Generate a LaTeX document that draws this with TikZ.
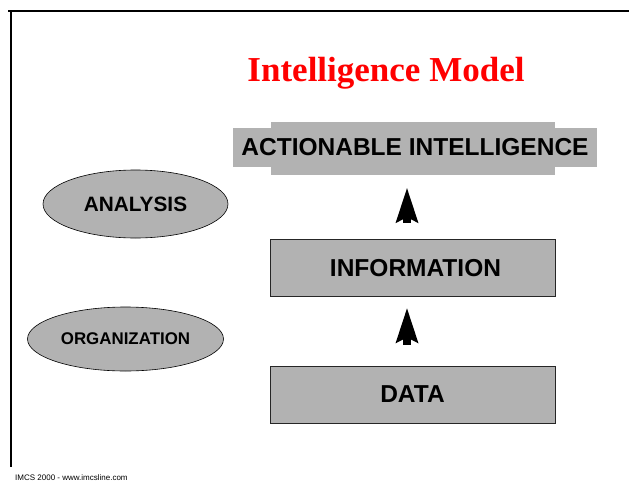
\documentclass[tikz,border=0pt]{standalone}
\usepackage{fontspec}
\setmainfont{Liberation Serif}
\setsansfont{Liberation Sans}
\usetikzlibrary{arrows.meta,shapes.geometric}
\definecolor{boxgray}{RGB}{178,178,178}
\definecolor{titlered}{RGB}{255,0,0}
\tikzset{
  graybox/.style={draw=black!85, line width=0.8pt, fill=boxgray, minimum width=285pt, minimum height=57pt, inner sep=0pt, font=\sffamily\bfseries\fontsize{24.5}{26}\selectfont},
  plainfill/.style={fill=boxgray, inner sep=0pt},
  grayellipse/.style={ellipse, draw=black, line width=0.6pt, fill=boxgray, inner sep=0pt},
  bigarrow/.style={line width=8pt, -{Stealth[length=35pt, width=23pt, inset=6pt, line width=0pt]}},
  frame/.style={line width=2pt}
}
\begin{document}
\begin{tikzpicture}[x=1pt,y=-1pt]
\useasboundingbox (0,0) rectangle (629,482);
% frame
\coordinate (fl) at (8,11);
\coordinate (fr) at (629,11);
\coordinate (fb) at (11,467);
\draw[frame] (fl) -- (fr);
\draw[frame] (11,10) -- (fb);
% title
\node[text=titlered, font=\rmfamily\bfseries\fontsize{35}{38}\selectfont, anchor=base] (title) at (386,81) {Intelligence Model};
% actionable intelligence cross shape
\node[plainfill, minimum width=284pt, minimum height=53pt] (actbg) at (413,148.5) {};
\node[plainfill, minimum width=364pt, minimum height=39pt, font=\sffamily\bfseries\fontsize{24.5}{26}\selectfont] (act) at (415,147.5) {ACTIONABLE INTELLIGENCE};
% boxes
\node[graybox, text depth=0pt] (info) at (412.5,267.5) {\hspace*{6pt}INFORMATION};
\node[graybox] (data) at (412.5,394.5) {DATA};
% arrows
\draw[bigarrow, shorten <=16pt, shorten >=13pt] (info.north -| 407,0) -- (actbg.south -| 407,0);
\draw[bigarrow, shorten <=21pt, shorten >=12pt] (data.north -| 407,0) -- (info.south -| 407,0);
% ellipses
\node[grayellipse, minimum width=185pt, minimum height=68pt, font=\sffamily\bfseries\fontsize{20.8}{22}\selectfont] (analysis) at (135.5,204) {ANALYSIS};
\node[grayellipse, minimum width=196pt, minimum height=64pt, font=\sffamily\bfseries\fontsize{16.9}{18}\selectfont] (org) at (125.5,339) {ORGANIZATION};
% footer
\node[anchor=base west, inner sep=0pt, font=\sffamily\fontsize{8}{9}\selectfont] (footer) at (15,480.5) {IMCS 2000 - www.imcsline.com};
\end{tikzpicture}
\end{document}
